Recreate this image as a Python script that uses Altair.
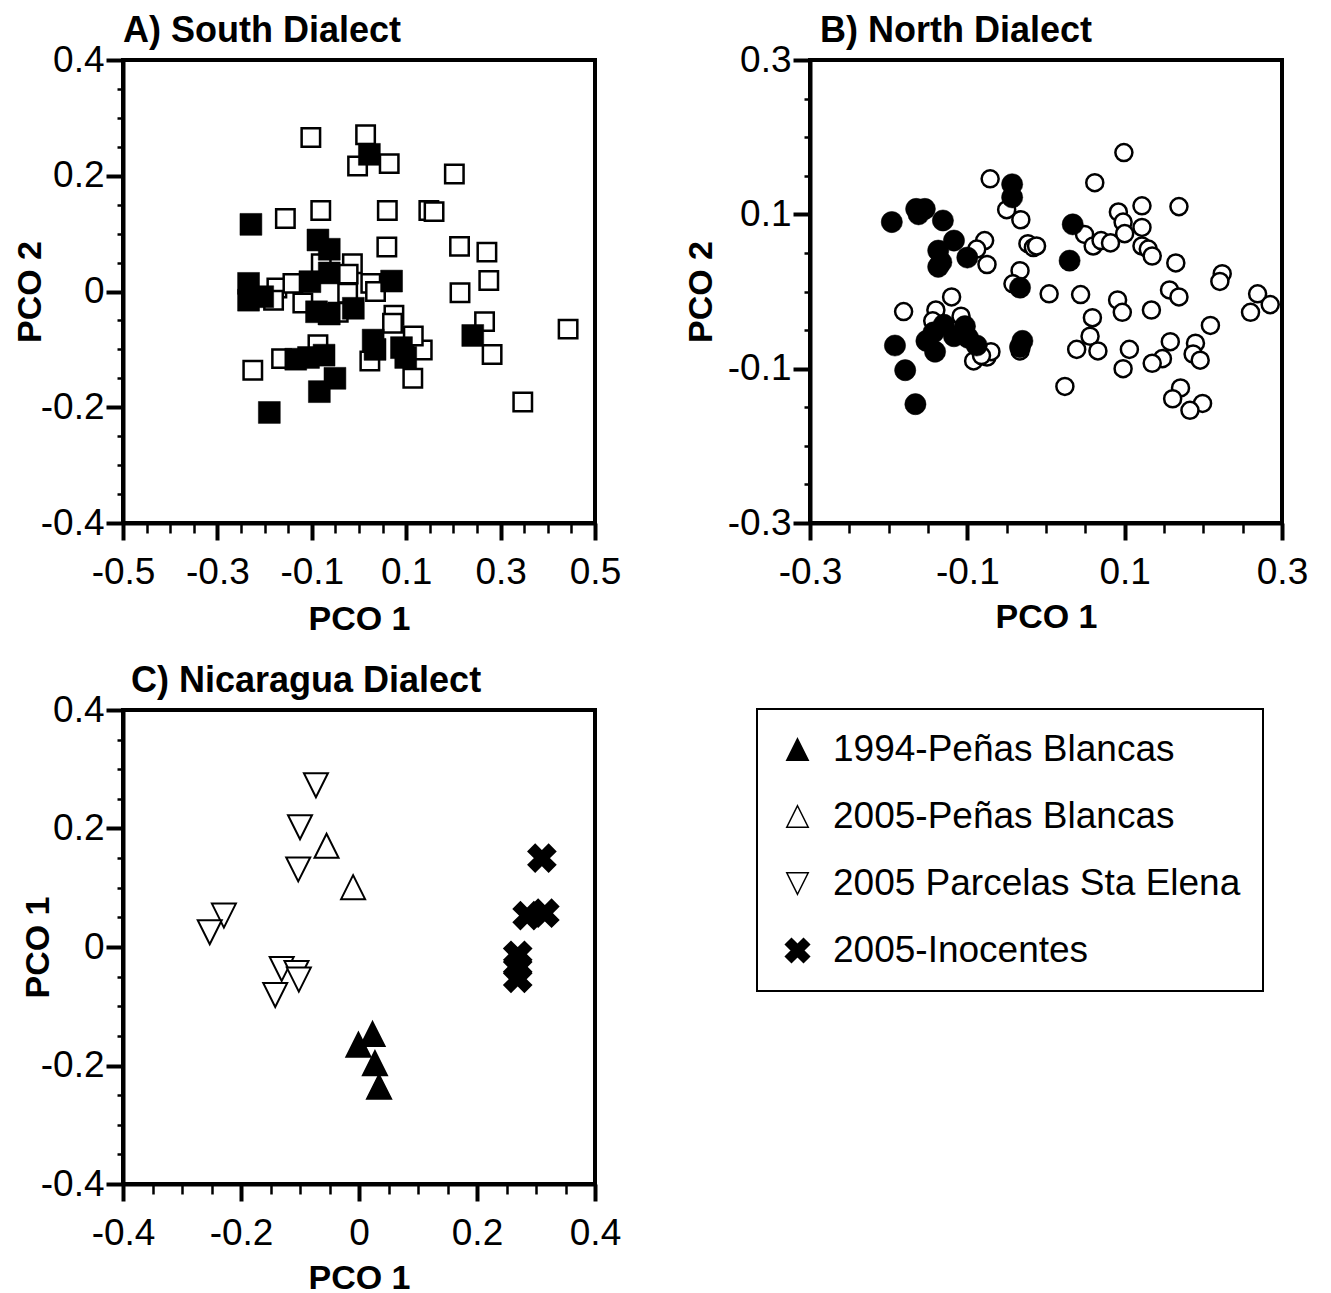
import altair as alt
import pandas as pd

FONT = "Liberation Sans"

# ---------------- Panel A: South Dialect ----------------
a_open_x = [-0.102, 0.014, -0.003, 0.064, 0.202, -0.081, -0.156, 0.060, 0.148, 0.159,
            0.059, 0.213, 0.271, 0.275, 0.214, 0.266, 0.282, 0.443, 0.347, -0.225,
            -0.164, -0.087, 0.114, 0.023, 0.134, 0.115, 0.074, 0.071, -0.014, -0.023,
            0.025, 0.035, -0.174, -0.181, -0.140, -0.119, -0.080, -0.024, -0.044, -0.065]
a_open_y = [0.266, 0.271, 0.217, 0.221, 0.203, 0.140, 0.126, 0.140, 0.140, 0.138,
            0.077, 0.078, 0.068, 0.019, -0.002, -0.052, -0.109, -0.065, -0.191, -0.136,
            -0.116, -0.092, -0.150, -0.120, -0.101, -0.077, -0.041, -0.055, 0.048, 0.030,
            0.014, 0.000, 0.006, -0.015, 0.014, -0.020, 0.048, -0.003, -0.036, -0.040]
a_fill_x = [0.022, -0.229, -0.087, -0.063, -0.063, -0.104, -0.234, -0.234, -0.204, 0.069,
            -0.090, -0.063, -0.012, 0.030, 0.034, 0.090, 0.099, 0.241, -0.134, -0.107,
            -0.074, -0.051, -0.084, -0.190]
a_fill_y = [0.237, 0.116, 0.089, 0.073, 0.032, 0.017, 0.014, -0.015, -0.009, 0.018,
            -0.035, -0.039, -0.029, -0.084, -0.100, -0.097, -0.114, -0.076, -0.117, -0.114,
            -0.110, -0.150, -0.173, -0.209]

# ---------------- Panel B: North Dialect ----------------
b_fill_x = [-0.196, -0.165, -0.154, -0.162, -0.131, -0.043, -0.043, -0.117, -0.137, -0.137,
            -0.133, -0.100, 0.034, 0.030, -0.033, -0.192, -0.179, -0.166, -0.152, -0.141,
            -0.143, -0.130, -0.117, -0.103, -0.099, -0.088, -0.030, -0.033]
b_fill_y = [0.090, 0.107, 0.107, 0.100, 0.092, 0.139, 0.122, 0.066, 0.053, 0.032,
            0.038, 0.044, 0.087, 0.040, 0.005, -0.070, -0.102, -0.146, -0.064, -0.078,
            -0.053, -0.043, -0.058, -0.045, -0.060, -0.070, -0.064, -0.072]
b_open_x = [0.099, 0.062, -0.071, -0.050, -0.032, 0.122, 0.169, 0.092, 0.098, 0.100,
            0.122, 0.122, 0.130, 0.135, 0.049, 0.060, 0.070, 0.082, -0.078, -0.088,
            -0.075, -0.023, -0.016, -0.012, -0.033, -0.042, 0.165, 0.224, 0.221, 0.004,
            0.044, 0.157, 0.169, 0.091, 0.097, 0.134, 0.269, 0.285, 0.260, 0.209,
            -0.181, -0.120, -0.140, -0.144, -0.108, 0.059, 0.056, 0.039, 0.066, 0.106,
            0.098, 0.158, 0.190, 0.187, 0.196, 0.148, 0.135, 0.024, 0.171, 0.161,
            0.199, 0.183, -0.092, -0.075, -0.070, -0.082, -0.033]
b_open_y = [0.180, 0.141, 0.146, 0.106, 0.093, 0.111, 0.110, 0.103, 0.090, 0.075,
            0.083, 0.059, 0.055, 0.046, 0.074, 0.059, 0.066, 0.063, 0.066, 0.055,
            0.035, 0.062, 0.057, 0.059, 0.027, 0.010, 0.037, 0.023, 0.013, -0.003,
            -0.004, 0.002, -0.007, -0.011, -0.027, -0.024, -0.003, -0.017, -0.027, -0.044,
            -0.026, -0.007, -0.024, -0.038, -0.032, -0.034, -0.058, -0.075, -0.077, -0.075,
            -0.100, -0.065, -0.067, -0.081, -0.089, -0.087, -0.093, -0.123, -0.125, -0.139,
            -0.145, -0.154, -0.090, -0.085, -0.078, -0.083, -0.077]

# ---------------- Panel C: Nicaragua Dialect ----------------
c_groups = ["1994-Peñas Blancas", "2005-Peñas Blancas", "2005 Parcelas Sta Elena", "2005-Inocentes"]
c_pb94_x = [0.023, -0.001, 0.027, 0.034]
c_pb94_y = [-0.147, -0.165, -0.196, -0.236]
c_pb05_x = [-0.055, -0.010]
c_pb05_y = [0.171, 0.101]
c_pse_x = [-0.073, -0.100, -0.103, -0.229, -0.253, -0.131, -0.106, -0.102, -0.142]
c_pse_y = [0.273, 0.202, 0.131, 0.053, 0.025, -0.037, -0.044, -0.055, -0.081]
c_ino_x = [0.310, 0.285, 0.315, 0.269, 0.269, 0.269]
c_ino_y = [0.150, 0.053, 0.057, -0.014, -0.033, -0.053]

TRI_UP = "M0,-1L1,1L-1,1Z"
TRI_DOWN = "M0,1L1,-1L-1,-1Z"
XMARK = ("M-1.12,-0.56L-0.56,-1.12L0,-0.56L0.56,-1.12L1.12,-0.56L0.56,0L1.12,0.56"
         "L0.56,1.12L0,0.56L-0.56,1.12L-1.12,0.56L-0.56,0Z")


def tick_values(lo, hi):
    n = int(round((hi - lo) / 0.05))
    return [round(lo + 0.05 * i, 2) for i in range(n + 1)]


def make_axis(lo, hi, major_mod, title, orient, title_pos):
    test = f"abs(round(datum.value*20)) % 4 == {major_mod}"
    is_x = orient == "bottom"
    kw = dict(
        values=tick_values(lo, hi),
        title=title,
        orient=orient,
        labelExpr=f"({test}) ? '' + datum.value : ''",
        tickSize={"condition": {"test": test, "value": 17}, "value": 10 if is_x else 6},
        tickWidth={"condition": {"test": test, "value": 4}, "value": 2.5},
        tickColor="black",
        domainColor="black",
        domainWidth=4,
        grid=False,
        labelFont=FONT,
        labelFontSize=37,
        labelColor="black",
        labelOverlap=False,
        labelFlush=False,
        labelPadding=14 if is_x else 2,
        titleFont=FONT,
        titleFontSize=34,
        titleFontWeight="bold",
        titleColor="black",
        titleBaseline="alphabetic",
    )
    if is_x:
        kw["titleY"] = title_pos
    else:
        kw["titleX"] = title_pos
        kw["titleAngle"] = -90
    return alt.Axis(**kw)


def panel_title(text, dx, offset):
    return alt.TitleParams(text, anchor="start", frame="group", font=FONT, fontSize=36,
                           fontWeight="bold", color="black", offset=offset, dx=dx)


def scatter_panel(open_x, open_y, fill_x, fill_y, shape, open_size, fill_size,
                  xdom, ydom, xmod, ymod, ytitle, title, dx, ytx, xty, w, h):
    df_open = pd.DataFrame({"x": open_x, "y": open_y})
    df_fill = pd.DataFrame({"x": fill_x, "y": fill_y})
    xenc = alt.X("x:Q", scale=alt.Scale(domain=xdom, nice=False, zero=False),
                 axis=make_axis(xdom[0], xdom[1], xmod, "PCO 1", "bottom", xty))
    yenc = alt.Y("y:Q", scale=alt.Scale(domain=ydom, nice=False, zero=False),
                 axis=make_axis(ydom[0], ydom[1], ymod, ytitle, "left", ytx))
    open_layer = alt.Chart(df_open).mark_point(
        shape=shape, filled=True, fill="white", stroke="black", strokeWidth=2.5,
        size=open_size, opacity=1).encode(x=xenc, y=yenc)
    fill_layer = alt.Chart(df_fill).mark_point(
        shape=shape, filled=True, fill="black", stroke="black", strokeWidth=0.5,
        size=fill_size, opacity=1).encode(x=xenc, y=yenc)
    return alt.layer(open_layer, fill_layer).properties(
        width=w, height=h, title=panel_title(title, dx, -9))


panel_a = scatter_panel(a_open_x, a_open_y, a_fill_x, a_fill_y, "square", 340, 480,
                        [-0.5, 0.5], [-0.4, 0.4], 2, 0, "PCO 2", "A) South Dialect", 0,
                        -83, 106, 472, 463)
panel_b = scatter_panel(b_open_x, b_open_y, b_fill_x, b_fill_y, "circle", 290, 450,
                        [-0.3, 0.3], [-0.3, 0.3], 2, 2, "PCO 2", "B) North Dialect", 10,
                        -99, 104, 472, 463)

rows = []
for g, xs, ys in [(c_groups[0], c_pb94_x, c_pb94_y), (c_groups[1], c_pb05_x, c_pb05_y),
                  (c_groups[2], c_pse_x, c_pse_y), (c_groups[3], c_ino_x, c_ino_y)]:
    for xv, yv in zip(xs, ys):
        rows.append({"x": xv, "y": yv, "group": g})
df_c = pd.DataFrame(rows)

legend_c = alt.Legend(
    title=None, orient="none", legendX=634, legendY=-1, padding=22,
    strokeColor="black", labelFont=FONT, labelFontSize=37, labelColor="black",
    labelLimit=0, symbolSize=460, symbolStrokeColor="black", symbolStrokeWidth=1.5,
    rowPadding=29, labelOffset=17, symbolOffset=0)

panel_c = alt.Chart(df_c).mark_point(
    filled=True, strokeWidth=2, size=576, opacity=1).encode(
    x=alt.X("x:Q", scale=alt.Scale(domain=[-0.4, 0.4], nice=False, zero=False),
            axis=make_axis(-0.4, 0.4, 0, "PCO 1", "bottom", 104)),
    y=alt.Y("y:Q", scale=alt.Scale(domain=[-0.4, 0.4], nice=False, zero=False),
            axis=make_axis(-0.4, 0.4, 0, "PCO 1", "left", -75)),
    shape=alt.Shape("group:N", scale=alt.Scale(domain=c_groups,
                    range=[TRI_UP, TRI_UP, TRI_DOWN, XMARK]), legend=legend_c),
    fill=alt.Fill("group:N", scale=alt.Scale(domain=c_groups,
                  range=["black", "white", "white", "black"]), legend=legend_c),
    stroke=alt.Stroke("group:N", scale=alt.Scale(domain=c_groups,
                      range=["black", "black", "black", "black"]), legend=legend_c),
).properties(width=472, height=474,
             title=panel_title("C) Nicaragua Dialect", 8, -9))

chart = alt.concat(panel_a, panel_b, panel_c, columns=2,
                   spacing={"row": 187, "column": 215}, bounds="flush").resolve_scale(
    shape="independent", fill="independent", stroke="independent").properties(
    padding={"left": 3, "top": 3, "right": 5, "bottom": 5}
).configure_view(stroke="black", strokeWidth=4).configure_legend(strokeWidth=2)

chart.save("out.html", embed_options={"renderer": "svg", "actions": False})
